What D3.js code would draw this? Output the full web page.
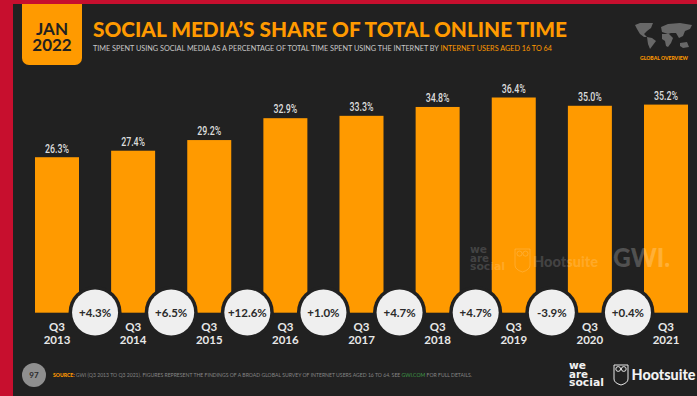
<!DOCTYPE html>
<html>
<head>
<meta charset="utf-8">
<script src="https://cdn.jsdelivr.net/npm/d3@7/dist/d3.min.js"></script>
<style>
html,body{margin:0;padding:0;background:#212121;overflow:hidden}
svg{display:block}
text{font-family:"Lato","Open Sans",sans-serif}
</style>
</head>
<body>
<svg id="chart" width="697" height="396"></svg>
<script>
const years = ["2013","2014","2015","2016","2017","2018","2019","2020","2021"];
const shares = [26.3,27.4,29.2,32.9,33.3,34.8,36.4,35.0,35.2];
const changes = ["+4.3%","+6.5%","+12.6%","+1.0%","+4.7%","+4.7%","-3.9%","+0.4%"];
const shareLabels = ["26.3%","27.4%","29.2%","32.9%","33.3%","34.8%","36.4%","35.0%","35.2%"];
const brandWords = ["we","are","social"];
const brandWidths = [17,19,35];
const badgeLines = ["JAN","2022"];

const ORANGE = "#ff9a00", DARK = "#212121", RED = "#c70f2e";
const svg = d3.select("#chart");

// Stacks several lines inside one text element
const stacked = (sel, lines, x, pitch) => lines.forEach((t,i) =>
  sel.append("tspan").attr("x",x).attr("dy",i ? pitch : 0).text(t));

// Three-line wordmark, each line fitted to its own width
const wordmark = (g, x, baseline, pitch, size, widths, fill) =>
  brandWords.forEach((t,i) => g.append("text")
    .attr("x",x).attr("y",baseline+i*pitch).attr("font-size",size).attr("fill",fill)
    .attr("font-weight",700).style("font-family",'"DejaVu Sans",sans-serif')
    .attr("textLength",widths[i]).attr("lengthAdjust","spacingAndGlyphs").text(t));

// Page frame
svg.append("rect").attr("width",697).attr("height",396).attr("fill",DARK);
svg.append("rect").attr("width",13).attr("height",396).attr("fill",RED);
svg.append("rect").attr("width",697).attr("height",4).attr("fill",RED);

// Date badge
svg.append("path")
  .attr("d","M22,4H82V58a7,7 0 0 1 -7,7H29a7,7 0 0 1 -7,-7Z")
  .attr("fill",ORANGE);
svg.append("text").attr("y",34.5)
  .attr("text-anchor","middle").attr("fill","#212121")
  .attr("font-size",17).attr("font-weight",700)
  .call(stacked,badgeLines,52,16.5);

// Headline and subtitle
svg.append("text").attr("x",93).attr("y",37)
  .attr("fill",ORANGE).attr("font-size",20.5).attr("font-weight",900)
  .attr("textLength",474).attr("lengthAdjust","spacingAndGlyphs")
  .text("SOCIAL MEDIA’S SHARE OF TOTAL ONLINE TIME");
const sub = svg.append("text").attr("x",93).attr("y",51)
  .attr("font-size",7.2).attr("fill","#c8c8c8")
  .attr("textLength",459).attr("lengthAdjust","spacingAndGlyphs");
sub.append("tspan").text("TIME SPENT USING SOCIAL MEDIA AS A PERCENTAGE OF TOTAL TIME SPENT USING THE INTERNET BY ");
sub.append("tspan").attr("fill",ORANGE).text("INTERNET USERS AGED 16 TO 64");

// Scales
const xPos = d3.scalePoint().domain(years).range([57,666]);
const barW = 44;
const y = d3.scaleLinear().domain([0,36.4]).range([312.7,97.5]);

// Bars
svg.append("g").selectAll("rect").data(shares).join("rect")
  .attr("x",(d,i)=>xPos(years[i])-barW/2)
  .attr("y",d=>y(d))
  .attr("width",barW)
  .attr("height",d=>y(0)-y(d))
  .attr("fill",ORANGE);

// Value labels, condensed above each bar
svg.append("g").selectAll("text").data(shareLabels).join("text")
  .attr("x",(d,i)=>xPos(years[i]))
  .attr("y",(d,i)=>y(shares[i])-4.7)
  .attr("text-anchor","middle").attr("fill","#dcdcdc")
  .attr("font-size",12.5).attr("font-weight",500)
  .attr("textLength",24).attr("lengthAdjust","spacingAndGlyphs")
  .style("font-family",'"Roboto",sans-serif')
  .text(d=>d);

// Quarter / year labels
svg.append("g").selectAll("text").data(years).join("text")
  .attr("y",331)
  .attr("fill","#e8e8e8").attr("font-weight",700).attr("font-size",11.5).attr("text-anchor","middle")
  .each(function(d){ d3.select(this).call(stacked,["Q3",d],xPos(d),13); });

// Year-on-year change bubbles
const mid = i => (xPos(years[i])+xPos(years[i+1]))/2;
const bubbles = svg.append("g").selectAll("g").data(changes).join("g")
  .attr("transform",(d,i)=>`translate(${mid(i)},312.5)`);
bubbles.append("circle").attr("r",26.5).attr("fill",DARK);
bubbles.append("circle").attr("r",23).attr("fill","#efefef");
bubbles.append("text").attr("y",4).attr("text-anchor","middle")
  .attr("fill","#2a2a2a").attr("font-size",11.5).attr("font-weight",700).text(d=>d);

// Owl badge shared by both partner marks
const owl = (g,ox,oy,w,h,stroke,opacity) => {
  const p = d3.path();
  p.moveTo(ox,oy);
  p.lineTo(ox+w,oy);
  p.lineTo(ox+w,oy+h*0.7);
  p.quadraticCurveTo(ox+w,oy+h*0.9,ox+w*0.5,oy+h);
  p.quadraticCurveTo(ox,oy+h*0.9,ox,oy+h*0.7);
  p.closePath();
  g.append("path").attr("d",p.toString()).attr("fill","none")
    .attr("stroke",stroke).attr("stroke-opacity",opacity).attr("stroke-width",1);
  [0.3,0.7].forEach(f=>g.append("circle").attr("cx",ox+w*f).attr("cy",oy+h*0.2).attr("r",w*0.17)
    .attr("fill","none").attr("stroke",stroke).attr("stroke-opacity",opacity));
};

// Faint partner watermark across the upper bars
const wm = svg.append("g").attr("fill","#fff").attr("fill-opacity",0.17).attr("font-weight",900);
wordmark(wm,470,253,8.5,10,brandWidths,"#fff");
owl(wm,515,249,15,23,"#fff",0.17);
wm.append("text").attr("x",533).attr("y",267).attr("font-size",14.5)
  .attr("textLength",65).attr("lengthAdjust","spacingAndGlyphs").text("Hootsuite");
wm.append("text").attr("x",613).attr("y",267).attr("font-size",26)
  .attr("fill-opacity",0.22).attr("textLength",57).attr("lengthAdjust","spacingAndGlyphs").text("GWI.");

// World map glyph
const land = [
  "M635,25 L640,23 L653,23 L651,28 L647,31 L644,34 L647,37 L644,37 L640,34 L637,29Z",
  "M647,37 L652,38 L656,41 L653,45 L650,49 L648,44Z",
  "M661,27 L668,24 L680,23 L692,25 L690,29 L685,31 L683,36 L679,38 L676,33 L671,33 L668,34 L662,32Z",
  "M662,34 L669,34 L673,38 L671,43 L668,47 L666,46 L665,41 L662,39Z",
  "M680,43 L687,42 L689,47 L683,48 L680,46Z"
];
svg.append("g").selectAll("path").data(land).join("path")
  .attr("d",d=>d).attr("fill","#686868");
svg.append("text").attr("x",664).attr("y",59.5).attr("text-anchor","middle")
  .attr("fill",ORANGE).attr("font-size",4.6).attr("font-weight",900)
  .attr("textLength",48).attr("lengthAdjust","spacingAndGlyphs").text("GLOBAL OVERVIEW");

// Footer
svg.append("circle").attr("cx",34).attr("cy",375).attr("r",12).attr("fill","#8f8f8f");
svg.append("text").attr("x",34).attr("y",378).attr("text-anchor","middle")
  .attr("fill","#2a2a2a").attr("font-size",8).attr("font-weight",700).text("97");
const src = svg.append("text").attr("x",53).attr("y",376.5).attr("font-size",4.7).attr("fill","#858585")
  .attr("textLength",419).attr("lengthAdjust","spacingAndGlyphs");
src.append("tspan").attr("fill",ORANGE).attr("font-weight",900).text("SOURCE: ");
src.append("tspan").text("GWI (Q3 2013 TO Q3 2021). FIGURES REPRESENT THE FINDINGS OF A BROAD GLOBAL SURVEY OF INTERNET USERS AGED 16 TO 64. SEE ");
src.append("tspan").attr("fill","#3f9a48").text("GWI.COM");
src.append("tspan").text(" FOR FULL DETAILS.");

// Footer partner marks
wordmark(svg.append("g"),569,369,8.6,10.5,brandWidths,"#f2f2f2");
owl(svg.append("g"),614,365,14,20,"#e8e8e8",1);
svg.append("text").attr("x",631.5).attr("y",380).attr("fill","#f2f2f2")
  .attr("font-size",14.5).attr("font-weight",900)
  .attr("textLength",64).attr("lengthAdjust","spacingAndGlyphs").text("Hootsuite");
</script>
</body>
</html>
